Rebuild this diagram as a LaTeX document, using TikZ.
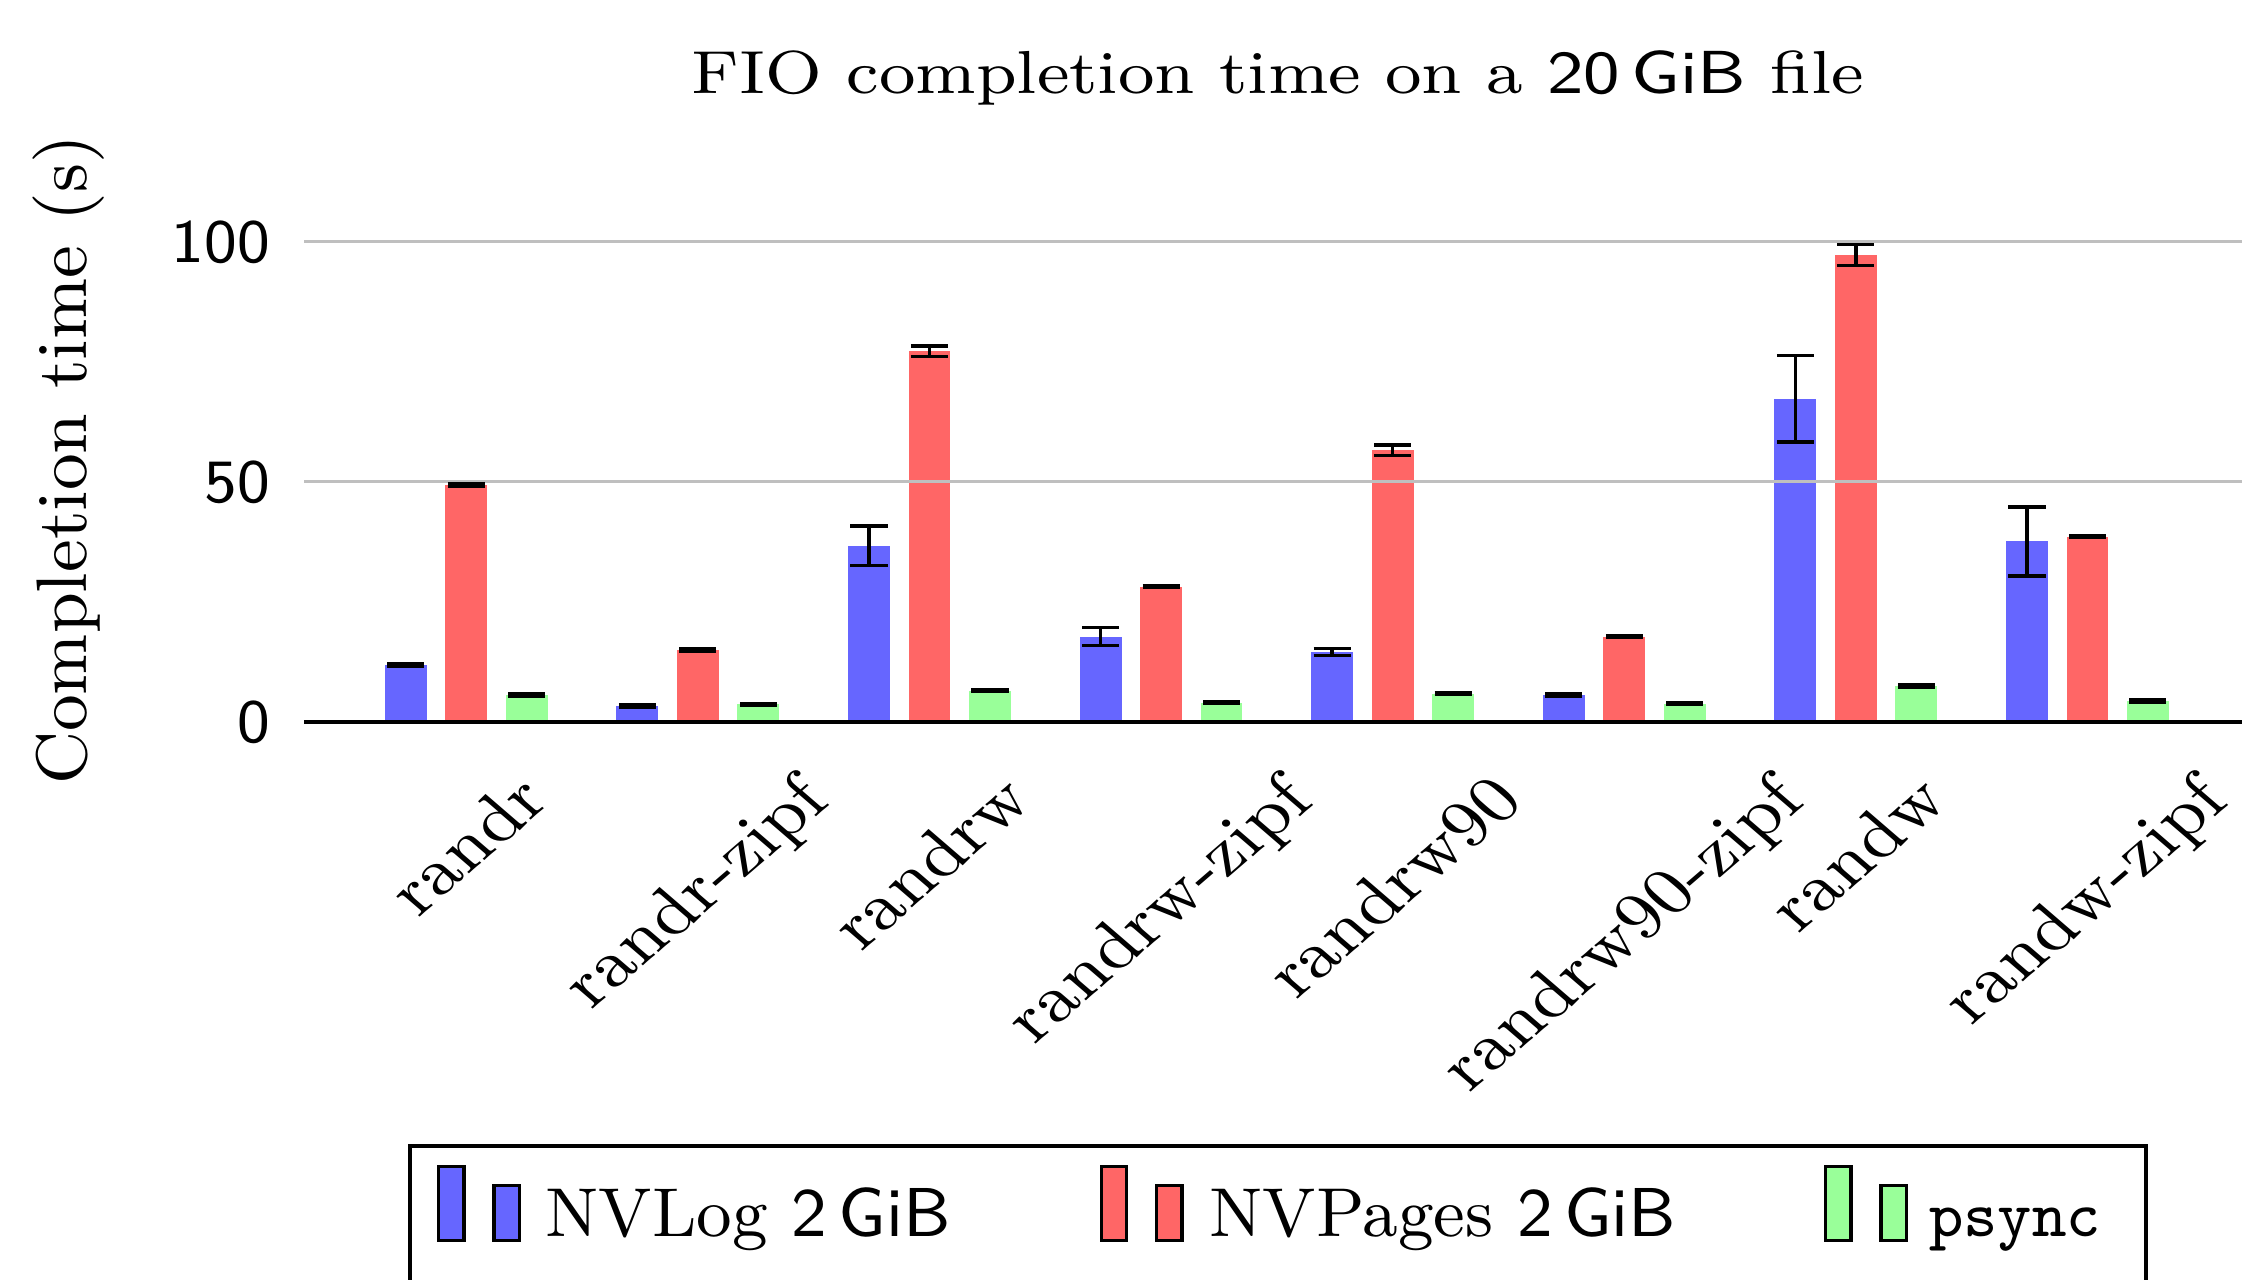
\documentclass[tikz,border=0pt]{standalone}
\usepackage{graphicx}
\usepackage{tikz}
\usetikzlibrary{calc}
\definecolor{cLog}{RGB}{102,102,255}
\definecolor{cPages}{RGB}{255,102,102}
\definecolor{cSync}{RGB}{153,255,153}
\definecolor{cGrid}{RGB}{191,191,191}

\tikzset{
  errline/.style={line width=0.45pt},
  keybar/.style={draw=black,line width=0.45pt},
  xlab/.style={anchor=north,inner sep=0pt,yshift=-2.15mm,font=\fontsize{8.6}{10.3}\selectfont},
}

% text set a little wider than its font
\newcommand{\widen}[2][1.13]{\scalebox{#1}[1]{#2}}

% error bar with caps: x, mean, half width
\newcommand{\errbar}[3]{%
  \draw[errline] (#1,{#2-#3}) -- (#1,{#2+#3});
  \draw[errline] ({#1-0.08},{#2-#3}) -- ({#1+0.08},{#2-#3});
  \draw[errline] ({#1-0.08},{#2+#3}) -- ({#1+0.08},{#2+#3});
}

% job / NVLog / err / NVPages / err / psync / err
\def\fiodata{1/11.9/0.3/49.4/0.2/5.6/0.2,
  2/3.3/0.2/15.0/0.2/3.7/0.2,
  3/36.7/4.1/77.2/1.1/6.5/0.2,
  4/17.8/1.9/28.2/0.2/4.0/0.2,
  5/14.6/0.7/56.6/1.1/5.9/0.2,
  6/5.6/0.2/17.8/0.2/3.8/0.2,
  7/67.3/9.0/97.3/2.2/7.5/0.2,
  8/37.6/7.2/38.6/0.2/4.4/0.2}

\begin{document}
\begin{tikzpicture}[font=\fontsize{9}{10.8}\selectfont]
  \useasboundingbox (0,0) rectangle (10.246,5.845);
  \clip (0,0) rectangle (10.246,5.845);

  \node[anchor=base,inner sep=0pt,font=\fontsize{7.9}{9.5}\selectfont] (title) at (5.840,5.418)
    {\widen{FIO completion time on a \textsf{20\,GiB} file}};
  \node[rotate=90,font=\fontsize{9.3}{11}\selectfont] (ylab) at (0.315,3.743) {Completion time (s)};

  \begin{scope}[shift={(1.0726,2.5455)},x=1.0584cm,y=0.021936cm]
    % bars
    \foreach \i/\a/\ea/\b/\eb/\c/\ec in \fiodata {
      \pgfmathsetmacro\xa{\i-0.2612}
      \pgfmathsetmacro\xc{\i+0.2612}
      \fill[cLog] ({\xa-0.0903},0) rectangle ({\xa+0.0903},\a);
      \fill[cPages] ({\i-0.0903},0) rectangle ({\i+0.0903},\b);
      \fill[cSync] ({\xc-0.0903},0) rectangle ({\xc+0.0903},\c);
    }
    \foreach \v in {50,100} \draw[cGrid,line width=0.4pt] (0.3,\v) -- (8.75,\v);
    \draw[line width=0.6pt] (0.3,0) -- (8.75,0);
    \foreach \v in {0,50,100}
      \node[anchor=east,inner sep=0pt,xshift=-1.5mm,font=\fontsize{8}{9.6}\sffamily] (yt\v) at (0.3,\v) {\v};
    % error bars
    \foreach \i/\a/\ea/\b/\eb/\c/\ec in \fiodata {
      \pgfmathsetmacro\xa{\i-0.2612}
      \pgfmathsetmacro\xc{\i+0.2612}
      \errbar{\xa}{\a}{\ea}
      \errbar{\i}{\b}{\eb}
      \errbar{\xc}{\c}{\ec}
    }
    \foreach \i/\n in {1/randr,2/randr-zipf,3/randrw,4/randrw-zipf,5/randrw90,6/randrw90-zipf,7/randw,8/randw-zipf}
      \node[xlab] (xl\i) at (\i,0) {\widen[1.16]{\rotatebox{45}{\n}}};
  \end{scope}

  % legend
  \draw[line width=0.5pt] (1.872,0.608) rectangle (9.807,-0.5);
  \foreach \x/\col/\t/\tx [count=\k] in {1.997/cLog/{NVLog \textsf{2\,GiB}}/2.486,
      5.026/cPages/{NVPages \textsf{2\,GiB}}/5.521,
      8.336/cSync/{\fontsize{8.5}{10}\ttfamily psync}/8.809} {
    \draw[keybar,fill=\col] (\x+0.007,0.177) rectangle (\x+0.123,0.514);
    \draw[keybar,fill=\col] (\x+0.260,0.177) rectangle (\x+0.376,0.427);
    \node[anchor=base west,inner sep=0pt] (lg\k) at (\tx,0.193) {\t};
  }
\end{tikzpicture}
\end{document}
